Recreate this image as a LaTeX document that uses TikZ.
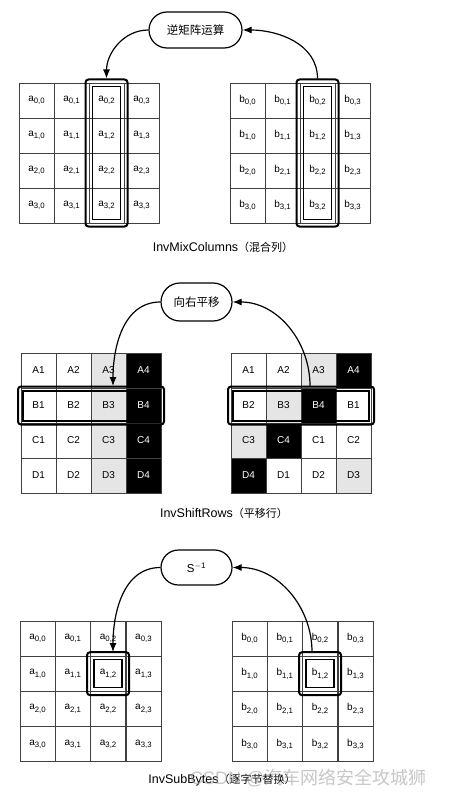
\documentclass[tikz,border=0pt]{standalone}
\usepackage{fontspec}
\setmainfont{Liberation Sans}
\newfontfamily\cjk{Noto Sans CJK SC}
\usetikzlibrary{arrows.meta,shapes.misc,fit}
\newcommand\cellsub[2]{#1\raisebox{-0.45ex}{\fontsize{7.8}{9}\selectfont #2}}
\begin{document}
\begin{tikzpicture}[x=1pt,y=-1pt,
  cell/.style={draw=black!75, line width=0.6pt, minimum width=35pt, minimum height=35pt,
    inner sep=0pt, outer sep=0pt, anchor=north west, font=\fontsize{10}{11}\selectfont},
  gcell/.style={cell, fill=black!10},
  kcell/.style={cell, fill=black, text=white},
  outerbox/.style={draw, line width=2pt, rounded corners=3pt, inner sep=0pt},
  innerbox/.style={draw, line width=1.4pt},
  oval/.style={rounded rectangle, draw, line width=1.2pt, inner sep=0pt,
    font=\cjk\fontsize{11.5}{13}\selectfont},
  flow/.style={-{Latex[length=9pt,width=7pt]}, line width=1.2pt},
  caption/.style={font=\fontsize{12.5}{14}\selectfont, inner sep=0pt}
]
\useasboundingbox (0,0) rectangle (453,797);
\fill[white] (0,0) rectangle (453,797);

%% ---------------- InvMixColumns ----------------
\foreach \r in {0,...,3}{
  \foreach \c in {0,...,3}{
    \node[cell] (ML-\r-\c) at ({19+35*\c},{83+35*\r}) {\cellsub{a}{\r,\c}};
    \node[cell] (MR-\r-\c) at ({230+35*\c},{83+35*\r}) {\cellsub{b}{\r,\c}};
  }
}
\node[outerbox, fit=(ML-0-2)(ML-3-2), inner xsep=3.5pt, inner ysep=3.5pt] (MLbox) {};
\node[outerbox, fit=(MR-0-2)(MR-3-2), inner xsep=3.5pt, inner ysep=3.5pt] (MRbox) {};
\draw[innerbox] ([shift={(3.5,3.5)}]ML-0-2.north west) rectangle ([shift={(-3.5,-3.5)}]ML-3-2.south east);
\draw[innerbox] ([shift={(3.5,3.5)}]MR-0-2.north west) rectangle ([shift={(-3.5,-3.5)}]MR-3-2.south east);
\node[oval, minimum width=93pt, minimum height=36pt] (Mov) at (195.5,30) {逆矩阵运算};
\draw[flow] (Mov.west) to[out=180,in=90] (MLbox.north);
\draw[flow] (MRbox.north) to[out=90,in=0] (Mov.east);
\node[caption] (Mcap) at (223,247) {InvMixColumns{\cjk\fontsize{11}{13}\selectfont（混合列）}};

%% ---------------- InvShiftRows ----------------
\foreach \r/\l in {0/A,1/B,2/C,3/D}{
  \node[cell] (SL-\r-0) at (21,{353+35*\r}) {\l1};
  \node[cell] (SL-\r-1) at (56,{353+35*\r}) {\l2};
  \node[gcell] (SL-\r-2) at (91,{353+35*\r}) {\l3};
  \node[kcell] (SL-\r-3) at (126,{353+35*\r}) {\l4};
}
% right grid
\node[cell]  (SR-0-0) at (231,353) {A1};
\node[cell]  (SR-0-1) at (266,353) {A2};
\node[gcell] (SR-0-2) at (301,353) {A3};
\node[kcell] (SR-0-3) at (336,353) {A4};
\node[cell]  (SR-1-0) at (231,388) {B2};
\node[gcell] (SR-1-1) at (266,388) {B3};
\node[kcell] (SR-1-2) at (301,388) {B4};
\node[cell]  (SR-1-3) at (336,388) {B1};
\node[gcell] (SR-2-0) at (231,423) {C3};
\node[kcell] (SR-2-1) at (266,423) {C4};
\node[cell]  (SR-2-2) at (301,423) {C1};
\node[cell]  (SR-2-3) at (336,423) {C2};
\node[kcell] (SR-3-0) at (231,458) {D4};
\node[cell]  (SR-3-1) at (266,458) {D1};
\node[cell]  (SR-3-2) at (301,458) {D2};
\node[gcell] (SR-3-3) at (336,458) {D3};
\node[outerbox, fit=(SL-1-0)(SL-1-3), inner xsep=3pt, inner ysep=1.5pt] (SLbox) {};
\node[outerbox, fit=(SR-1-0)(SR-1-3), inner xsep=3pt, inner ysep=1.5pt] (SRbox) {};
\draw[innerbox] ([shift={(2,3)}]SL-1-0.north west) rectangle ([shift={(-2,-2)}]SL-1-3.south east);
\draw[innerbox] ([shift={(2,3)}]SR-1-0.north west) rectangle ([shift={(-2,-2)}]SR-1-3.south east);
\node[oval, minimum width=71pt, minimum height=38pt] (Sov) at (196.5,302) {向右平移};
\coordinate (Sin) at (113,386);
\coordinate (Sout) at (310,386);
\draw[flow] (Sov.west) to[out=180,in=90] (Sin);
\draw[flow] (Sout) to[out=90,in=0] (Sov.east);
\node[caption] (Scap) at (224,513) {InvShiftRows{\cjk\fontsize{11}{13}\selectfont（平移行）}};

%% ---------------- InvSubBytes ----------------
\foreach \r in {0,...,3}{
  \foreach \c in {0,...,3}{
    \node[cell] (BL-\r-\c) at ({20+35.3*\c},{621+35.2*\r}) {\cellsub{a}{\r,\c}};
    \node[cell] (BR-\r-\c) at ({232+35.3*\c},{621+35.2*\r}) {\cellsub{b}{\r,\c}};
  }
}
\node[outerbox, fit=(BL-1-2), inner xsep=3.5pt, inner ysep=4pt] (BLbox) {};
\node[outerbox, fit=(BR-1-2), inner xsep=3.5pt, inner ysep=4pt] (BRbox) {};
\draw[innerbox] ([shift={(3.5,3.5)}]BL-1-2.north west) rectangle ([shift={(-3.5,-3.5)}]BL-1-2.south east);
\draw[innerbox] ([shift={(3.5,3.5)}]BR-1-2.north west) rectangle ([shift={(-3.5,-3.5)}]BR-1-2.south east);
\node[oval, minimum width=71pt, minimum height=35pt, font=\fontsize{11.5}{13}\selectfont] (Bov) at (196.5,567.5) {S\textsuperscript{$-$1}};
\coordinate (Bin) at (113,652);
\coordinate (Bout) at (312,652);
\draw[flow] (Bov.west) to[out=180,in=90] (Bin);
\draw[flow] (Bout) to[out=90,in=0] (Bov.east);
\node[caption] (Bcap) at (222,780) {InvSubBytes{\cjk\fontsize{11}{13}\selectfont（逐字节替换）}};
\node[anchor=west, inner sep=0pt, text=black!40, opacity=0.55, font=\fontsize{18}{20}\selectfont] (wm) at (190,778) {CSDN @{\cjk 汽车网络安全攻城狮}};
\end{tikzpicture}
\end{document}
